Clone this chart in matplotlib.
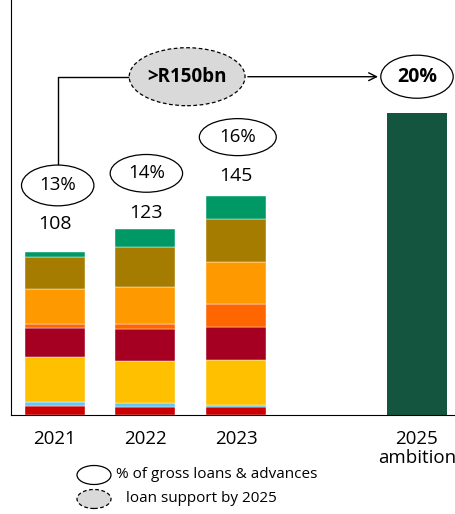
import matplotlib.pyplot as plt
from matplotlib.patches import Ellipse
import numpy as np

plt.rcParams['font.family'] = ['Open Sans', 'DejaVu Sans']

years = ['2021', '2022', '2023']
xpos = [0, 1, 2]
totals = [108, 123, 145]
pct = ['13%', '14%', '16%']

# stacked segments, bottom to top
seg_colors = ['#cc0000', '#66c7f0', '#ffc000', '#a50021', '#ff6600', '#ff9900', '#a67c00', '#009966']
segments = [
    [6.0, 5.3, 5.1],
    [2.6, 2.6, 1.3],
    [29.6, 28.0, 30.0],
    [19.4, 21.0, 21.9],
    [2.4, 3.3, 15.2],
    [23.4, 24.7, 27.8],
    [21.5, 26.2, 28.5],
    [3.1, 11.9, 15.2],
]

ambition_x = 4
ambition_val = 200
ambition_pct = '20%'
target_text = '>R150bn'

fig = plt.figure(figsize=(4.56, 5.14), dpi=100)
ax = fig.add_axes([11/456, 99/514, 445/456, 415/514])

w = 0.663
bottom = np.zeros(3)
for vals, c in zip(segments, seg_colors):
    ax.bar(xpos, vals, width=w, bottom=bottom, color=c, edgecolor='white', linewidth=0.3)
    bottom += np.array(vals)
ax.bar([ambition_x], [ambition_val], width=w, color='#14553f')

ax.set_xlim(-0.486, 4.431)
ax.set_ylim(0, 274.8)
ax.spines['top'].set_visible(False)
ax.spines['right'].set_visible(False)
ax.set_yticks([])
ax.set_xticks(xpos + [ambition_x])
ax.set_xticklabels(years + ['2025\nambition'], fontsize=13.5, linespacing=1.05)
ax.tick_params(axis='x', length=0, pad=11)

# total labels
label_y = [126.5, 134, 158]
for x, t, ly in zip(xpos, totals, label_y):
    ax.text(x, ly, str(t), ha='center', va='center', fontsize=14)

# percentage ellipses
pct_xy = [(0.03, 152), (1.01, 160), (2.02, 184)]
pct_size = [(0.80, 27), (0.80, 25), (0.85, 24.5)]
for (cx, cy), (ew, eh), p in zip(pct_xy, pct_size, pct):
    ax.add_patch(Ellipse((cx, cy), ew, eh, facecolor='white', edgecolor='black', lw=0.9, zorder=5))
    ax.text(cx, cy, p, ha='center', va='center', fontsize=13.5, zorder=6)

# target ellipse and connector
ax.add_patch(Ellipse((1.46, 224), 1.28, 38.4, facecolor='#d9d9d9', edgecolor='black',
                     lw=0.9, ls=(0, (3, 2)), zorder=5))
ax.text(1.46, 224, target_text, ha='center', va='center', fontsize=13.5, fontweight='bold', zorder=6)
ax.plot([0.03, 0.03, 0.82], [165.5, 224, 224], color='black', lw=1)
ax.annotate('', xy=(3.6, 224), xytext=(2.10, 224),
            arrowprops=dict(arrowstyle='->', color='black', lw=1, mutation_scale=14))
ax.add_patch(Ellipse((ambition_x, 224), 0.8, 28.5, facecolor='white', edgecolor='black', lw=0.9, zorder=5))
ax.text(ambition_x, 224, ambition_pct, ha='center', va='center', fontsize=14, fontweight='bold', zorder=6)

# legend
fig.add_artist(Ellipse((94/456, 1-475/514), 34/456, 19/514, transform=fig.transFigure,
                       facecolor='white', edgecolor='black', lw=0.9))
fig.text(116/456, 1-475/514, '% of gross loans & advances', ha='left', va='center', fontsize=11)
fig.add_artist(Ellipse((94/456, 1-499/514), 34/456, 19/514, transform=fig.transFigure,
                       facecolor='#d9d9d9', edgecolor='black', lw=0.9, ls=(0, (3, 2))))
fig.text(126/456, 1-499/514, 'loan support by 2025', ha='left', va='center', fontsize=11)

fig.savefig('out.png', dpi=100)
